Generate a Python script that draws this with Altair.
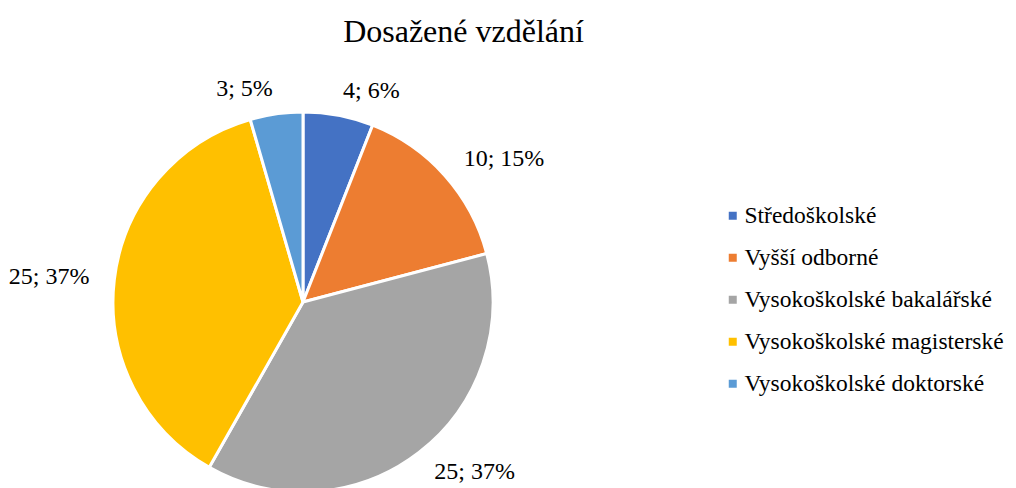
import altair as alt
import pandas as pd

categories = ["Středoškolské", "Vyšší odborné", "Vysokoškolské bakalářské",
              "Vysokoškolské magisterské", "Vysokoškolské doktorské"]
values = [4, 10, 25, 25, 3]
percents = [6, 15, 37, 37, 5]
colors = ["#4472C4", "#ED7D31", "#A5A5A5", "#FFC000", "#5B9BD5"]
right_side = [True, True, True, False, False]

df = pd.DataFrame({
    "cat": categories,
    "value": values,
    "label": [f"{v}; {p}%" for v, p in zip(values, percents)],
    "order": list(range(len(categories))),
    "right": right_side,
})

FONT = "'Liberation Serif', 'Times New Roman', serif"
CX, CY, R = 295, 244, 190
LR = 215

base = alt.Chart(df).encode(
    theta=alt.Theta("value:Q", stack=True),
    order=alt.Order("order:Q"),
    x=alt.value(CX),
    y=alt.value(CY),
)

pie = base.mark_arc(radius=R, stroke="white", strokeWidth=3).encode(
    color=alt.Color(
        "cat:N",
        scale=alt.Scale(domain=categories, range=colors),
        sort=categories,
        legend=alt.Legend(
            title=None, orient="none", legendX=713, legendY=146,
            symbolType="square", symbolSize=64, symbolStrokeWidth=0,
            labelFont=FONT, labelFontSize=23.5, labelColor="black",
            rowPadding=17, labelOffset=0, labelLimit=400,
        ),
    )
)

right_labels = base.mark_text(radius=LR, align="left", baseline="middle",
                              font=FONT, fontSize=24, color="black").encode(
    text=alt.condition("datum.right", alt.Text("label:N"), alt.value(""))
)
left_labels = base.mark_text(radius=LR, align="right", baseline="middle",
                             font=FONT, fontSize=24, color="black").encode(
    text=alt.condition("datum.right", alt.value(""), alt.Text("label:N"))
)

chart = alt.layer(pie, right_labels, left_labels).properties(
    width=1000, height=430,
    padding={"left": 0, "top": 50, "right": 0, "bottom": 0},
    autosize=alt.AutoSizeParams(type="none"),
    title=alt.TitleParams("Dosažené vzdělání", font=FONT, fontSize=32,
                          fontWeight="normal", color="black", anchor="middle",
                          frame="group", dx=-44.5, dy=31, offset=15,
                          baseline="alphabetic"),
).configure_view(stroke=None)

chart.save("out.html", embed_options={"renderer": "svg", "actions": False})
